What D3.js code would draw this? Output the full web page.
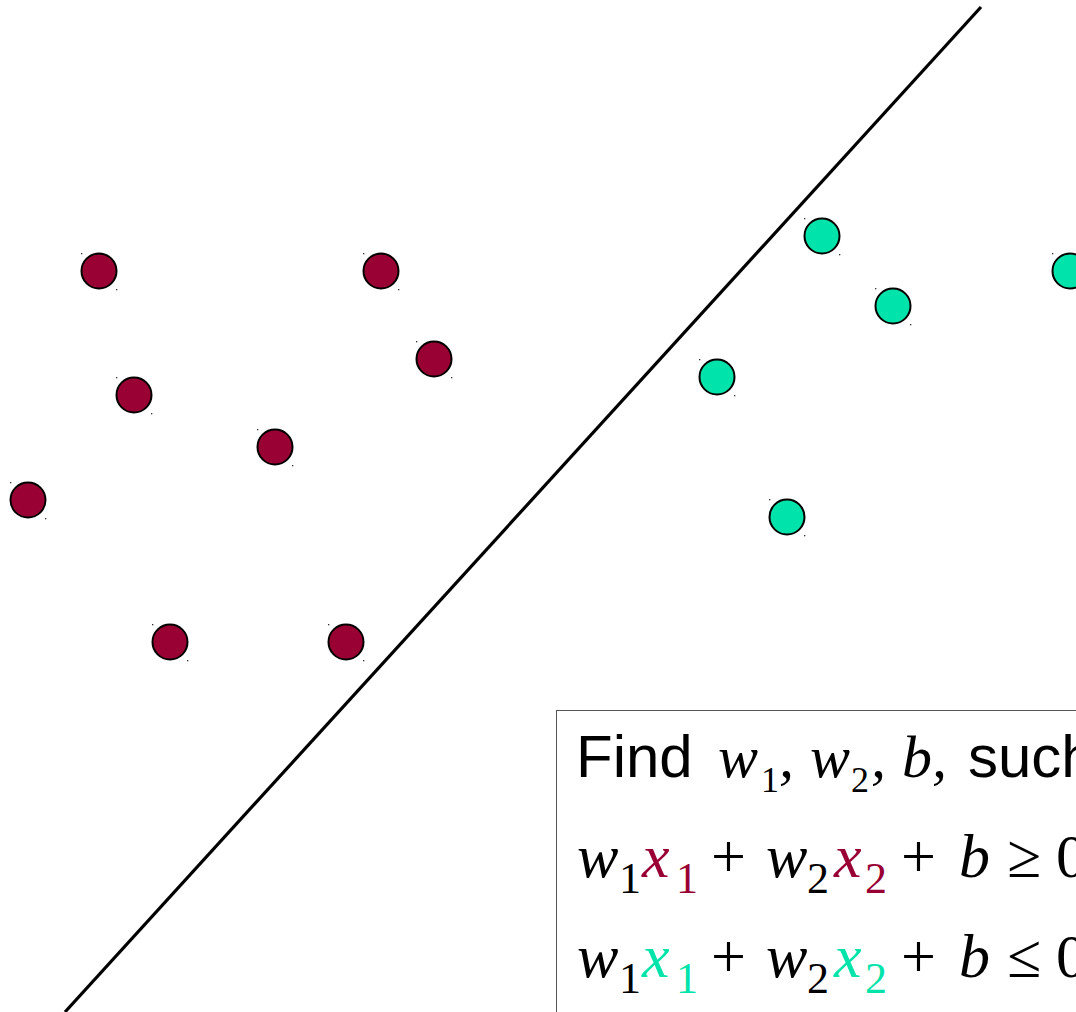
<!DOCTYPE html>
<html>
<head>
<meta charset="utf-8">
<script src="https://cdn.jsdelivr.net/npm/d3@7"></script>
<style>
  html, body { margin: 0; padding: 0; background: #fff; overflow: hidden; }
  #plot { width: 1076px; height: 1012px; }
</style>
</head>
<body>
<div id="plot"></div>
<script>
// class A points (dark red) and class B points (teal), in plot units
var redX  = [0.99, 3.81, 4.34, 1.34, 2.75, 0.28, 1.70, 3.46];
var redY  = [7.41, 7.41, 6.53, 6.17, 5.65, 5.12, 3.70, 3.70];
var tealX = [8.22, 10.70, 8.93, 7.17, 7.87];
var tealY = [7.76, 7.41, 7.06, 6.35, 4.95];
// separating line endpoints
var lineX = [0.65, 9.81];
var lineY = [0.00, 10.05];

var view = { w: 1076, h: 1012 };

var svg = d3.select("#plot")
            .append("svg")
            .attr("width", view.w)
            .attr("height", view.h);

var xScale = d3.scaleLinear().domain([0, 10.76]).range([0, view.w]),
    yScale = d3.scaleLinear().domain([0, 10.12]).range([view.h, 0]);

var red = "#990033", teal = "#00E3AA";

var pts = redX.map(function(d, i){ return {x: d, y: redY[i], c: red}; })
    .concat(tealX.map(function(d, i){ return {x: d, y: tealY[i], c: teal}; }));

// separating line
svg.append("line")
    .attr("x1", xScale(lineX[0])).attr("y1", yScale(lineY[0]))
    .attr("x2", xScale(lineX[1])).attr("y2", yScale(lineY[1]))
    .style("stroke", "#000")
    .style("stroke-width", 3.2);

// tiny handle specks around each point
var g_pts = svg.append("g");
g_pts.selectAll(".speck")
    .data(pts.concat(pts))
    .enter().append("rect")
    .attr("class", "speck")
    .attr("x", function(d, i){ return xScale(d.x) + (i < pts.length ? -18 : 17); })
    .attr("y", function(d, i){ return yScale(d.y) + (i < pts.length ? -18 : 18); })
    .attr("width", 1.3).attr("height", 1.3)
    .style("fill", "#333");

g_pts.selectAll(".pt")
    .data(pts)
    .enter().append("circle")
    .attr("class", "pt")
    .attr("cx", function(d){ return xScale(d.x); })
    .attr("cy", function(d){ return yScale(d.y); })
    .attr("r", 17.5)
    .style("fill", function(d){ return d.c; })
    .style("stroke", "#000")
    .style("stroke-width", 2);

// formula box
var g_box = svg.append("g");
g_box.append("rect")
    .attr("x", 556.5).attr("y", 710.5)
    .attr("width", 600).attr("height", 400)
    .style("fill", "#fff")
    .style("stroke", "#555")
    .style("stroke-width", 1);

var serif = "'Liberation Serif', 'Times New Roman', serif",
    sans = "'Liberation Sans', Arial, sans-serif";

function piece(x, y, txt, opt){
    opt = opt || {};
    g_box.append("text")
        .attr("x", x).attr("y", y)
        .style("font-family", opt.sans ? sans : serif)
        .style("font-style", opt.italic ? "italic" : "normal")
        .style("font-size", (opt.size || 62) + "px")
        .style("fill", opt.color || "#000")
        .text(txt);
}

// line 1
var b1 = 777;
piece(576, b1, "Find", {sans: true, size: 60});
piece(718, b1, "w", {italic: true, size: 60});
piece(761, b1 + 15, "1", {size: 36});
piece(779, b1, ",", {italic: true, size: 60});
piece(810, b1, "w", {italic: true, size: 60});
piece(851, b1 + 15, "2", {size: 36});
piece(871, b1, ",", {italic: true, size: 60});
piece(902, b1, "b,", {italic: true, size: 60});
piece(968, b1, "such that", {sans: true, size: 60});

// lines 2 and 3
[{b: 877, c: red, rel: "\u2265"}, {b: 977, c: teal, rel: "\u2264"}].forEach(function(r){
    piece(577, r.b, "w", {italic: true});
    piece(619, r.b + 16, "1", {size: 44});
    piece(642, r.b, "x", {italic: true, color: r.c});
    piece(676, r.b + 16, "1", {size: 44, color: r.c});
    piece(711, r.b, "+");
    piece(766, r.b, "w", {italic: true});
    piece(807, r.b + 16, "2", {size: 44});
    piece(834, r.b, "x", {italic: true, color: r.c});
    piece(865, r.b + 16, "2", {size: 44, color: r.c});
    piece(901, r.b, "+");
    piece(959, r.b, "b", {italic: true});
    piece(1007, r.b, r.rel);
    piece(1056, r.b, "0");
});
</script>
</body>
</html>
